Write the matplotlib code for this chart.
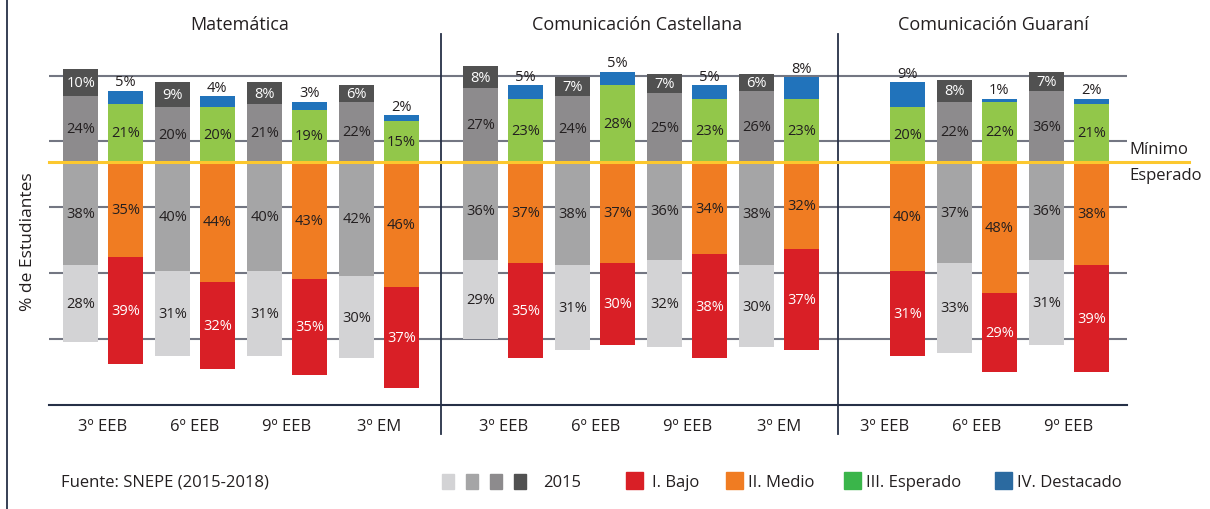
import numpy as np
import matplotlib
matplotlib.use("Agg")
import matplotlib.pyplot as plt
from matplotlib.patches import Rectangle
from matplotlib.lines import Line2D

plt.rcParams['font.family'] = ['Open Sans', 'DejaVu Sans']

# datos (porcentaje de estudiantes por nivel de desempeño)
nan = np.nan
subjects = ['Matemática', 'Comunicación Castellana', 'Comunicación Guaraní']
grades_mat = ['3º EEB', '6º EEB', '9º EEB', '3º EM']
grades_cas = ['3º EEB', '6º EEB', '9º EEB', '3º EM']
grades_gua = ['3º EEB', '6º EEB', '9º EEB']

mat_2015_bajo = [28, 31, 31, 30]
mat_2015_medio = [38, 40, 40, 42]
mat_2015_esperado = [24, 20, 21, 22]
mat_2015_destacado = [10, 9, 8, 6]
mat_2018_bajo = [39, 32, 35, 37]
mat_2018_medio = [35, 44, 43, 46]
mat_2018_esperado = [21, 20, 19, 15]
mat_2018_destacado = [5, 4, 3, 2]

cas_2015_bajo = [29, 31, 32, 30]
cas_2015_medio = [36, 38, 36, 38]
cas_2015_esperado = [27, 24, 25, 26]
cas_2015_destacado = [8, 7, 7, 6]
cas_2018_bajo = [35, 30, 38, 37]
cas_2018_medio = [37, 37, 34, 32]
cas_2018_esperado = [23, 28, 23, 23]
cas_2018_destacado = [5, 5, 5, 8]

gua_2015_bajo = [nan, 33, 31]
gua_2015_medio = [nan, 37, 36]
gua_2015_esperado = [nan, 22, 26]   # dibujado ~26, etiquetado 36% en el original
gua_2015_destacado = [nan, 8, 7]
gua_2018_bajo = [31, 29, 39]
gua_2018_medio = [40, 48, 38]
gua_2018_esperado = [20, 22, 21]
gua_2018_destacado = [9, 1, 2]

label_fix = {(2, 2015, 2, 'esperado'): '36%'}

legend_labels = ['I. Bajo', 'II. Medio', 'III. Esperado', 'IV. Destacado']

# colores
grays = ['#d3d3d5', '#a5a5a6', '#8d8b8d', '#515151']
colors = ['#d91f26', '#f07c22', '#92c74a', '#2173bb']
legend_colors = ['#d91f26', '#f07c22', '#3ab54a', '#2b6aa0']
txt = '#231f20'

data = [
    (grades_mat, {2015: [mat_2015_bajo, mat_2015_medio, mat_2015_esperado, mat_2015_destacado],
                  2018: [mat_2018_bajo, mat_2018_medio, mat_2018_esperado, mat_2018_destacado]}),
    (grades_cas, {2015: [cas_2015_bajo, cas_2015_medio, cas_2015_esperado, cas_2015_destacado],
                  2018: [cas_2018_bajo, cas_2018_medio, cas_2018_esperado, cas_2018_destacado]}),
    (grades_gua, {2015: [gua_2015_bajo, gua_2015_medio, gua_2015_esperado, gua_2015_destacado],
                  2018: [gua_2018_bajo, gua_2018_medio, gua_2018_esperado, gua_2018_destacado]}),
]
starts = [0, 4.35, 8.5]
offset = {2015: -0.243, 2018: 0.243}
w = 0.38

W, H = 1210, 510
fig = plt.figure(figsize=(W / 100, H / 100), dpi=100)
ax = fig.add_axes([49 / W, 1 - 405.5 / H, (1127 - 49) / W, (405.5 - 60) / H])
ax.set_xlim(-0.587, 11.13)
ax.set_ylim(-88.94, 37.6)

# lineas de grilla
ax.set_yticks([31.4, 7.4, -16.6, -40.8, -65.0])
ax.yaxis.grid(True, color='#737682', lw=1.5)
ax.set_axisbelow(True)
for s in ['top', 'left', 'right']:
    ax.spines[s].set_visible(False)
ax.spines['bottom'].set_color('#263047')
ax.spines['bottom'].set_linewidth(1.5)
ax.tick_params(axis='y', length=0, labelleft=False)
ax.tick_params(axis='x', length=0, pad=10, labelsize=12, labelcolor=txt)

names = ['bajo', 'medio', 'esperado', 'destacado']
xt, xl = [], []
for si, (grades, years) in enumerate(data):
    base = starts[si] + np.arange(len(grades))
    xt += list(base)
    xl += grades
    for yr in [2015, 2018]:
        bajo, medio, esp, dest = [np.array(v, dtype=float) for v in years[yr]]
        x = base + offset[yr]
        cols = grays if yr == 2015 else colors
        ax.bar(x, -medio, w, color=cols[1], zorder=2)
        ax.bar(x, -bajo, w, bottom=-medio, color=cols[0], zorder=2)
        ax.bar(x, esp, w, color=cols[2], zorder=2)
        ax.bar(x, dest, w, bottom=esp, color=cols[3], zorder=2)
        for i in range(len(grades)):
            if np.isnan(bajo[i]):
                continue
            pos = [-medio[i] - bajo[i] / 2, -medio[i] / 2, esp[i] / 2, esp[i] + dest[i] / 2]
            vals = [bajo[i], medio[i], esp[i], dest[i]]
            for k in range(4):
                lab = label_fix.get((si, yr, i, names[k]), '%d%%' % vals[k])
                c = txt
                if (yr == 2015 and k == 3) or (yr == 2018 and k == 0):
                    c = 'white'
                if yr == 2018 and k == 3:
                    ax.text(x[i], esp[i] + dest[i] + 0.5, lab, ha='center', va='bottom',
                            fontsize=10.5, color=txt, zorder=4)
                else:
                    ax.text(x[i], pos[k], lab, ha='center', va='center',
                            fontsize=10.5, color=c, zorder=4)

ax.set_xticks(xt)
ax.set_xticklabels(xl)

# linea del minimo esperado
ax.plot([-0.587, (1189 - 103) / 92], [0, 0], color='#fcc82e', lw=2.2, zorder=3, clip_on=False)
ax.text((1129 - 103) / 92, 4.6, 'Mínimo', ha='left', va='center', fontsize=12, color=txt)
ax.text((1129 - 103) / 92, -4.9, 'Esperado', ha='left', va='center', fontsize=12, color=txt)

# separadores de materias
for sx in [3.67, 7.99]:
    ax.plot([sx, sx], [46.8, -99.7], color='#263047', lw=1.3, clip_on=False)

# titulos
for t, tx in zip(subjects, [240, 637, 993]):
    fig.text(tx / W, 1 - 25 / H, t, ha='center', va='center', fontsize=13, color=txt)

fig.text(28 / W, 1 - 242 / H, '% de Estudiantes', rotation=90, ha='center', va='center',
         fontsize=12.5, color=txt)

# borde izquierdo
fig.add_artist(Line2D([7 / W, 7 / W], [0, 1], color='#263047', lw=1.3))

# leyenda y fuente
fig.text(61 / W, 1 - 483 / H, 'Fuente: SNEPE (2015-2018)', ha='left', va='center', fontsize=12, color=txt)
for j, g in enumerate(grays):
    fig.add_artist(Rectangle(((442 + 24 * j) / W, 1 - 490 / H), 12 / W, 15 / H, color=g))
fig.text(543 / W, 1 - 483 / H, '2015', ha='left', va='center', fontsize=12, color=txt)
for lx, tx2, lab, c in zip([626, 726, 844, 995], [652, 748, 866, 1017], legend_labels, legend_colors):
    fig.add_artist(Rectangle((lx / W, 1 - 490 / H), 17 / W, 17 / H, color=c))
    fig.text(tx2 / W, 1 - 483 / H, lab, ha='left', va='center', fontsize=12, color=txt)

fig.savefig('out.png', dpi=100)
